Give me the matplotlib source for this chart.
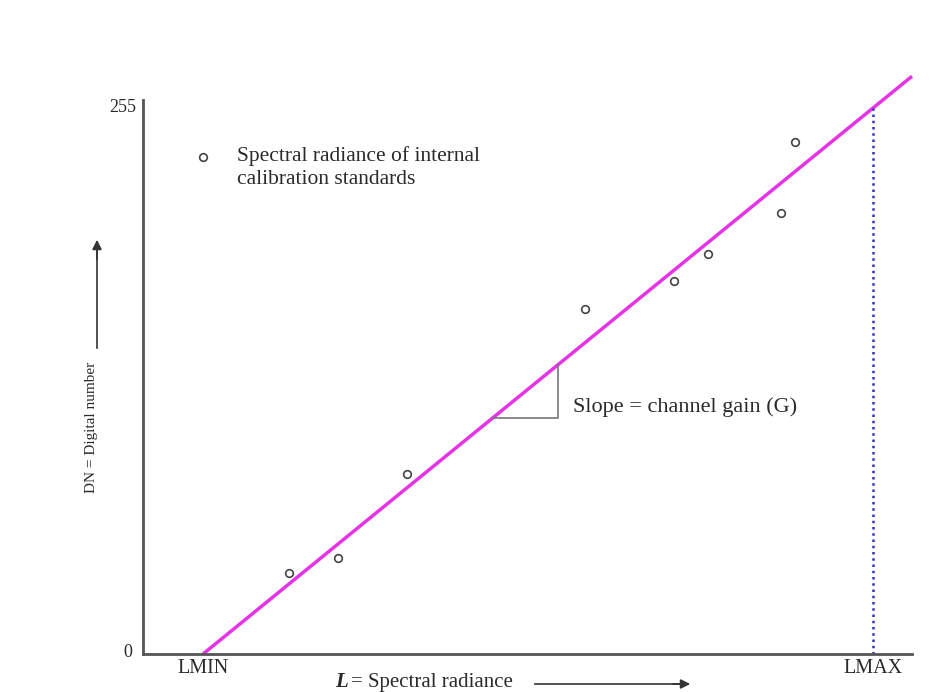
import matplotlib.pyplot as plt

# Calibration standards: spectral radiance (% of LMIN..LMAX span) vs recorded DN
radiance = [12.8, 20.1, 30.4, 57.0, 70.3, 75.4, 86.3, 88.4]
dn_values = [38, 45, 84, 161, 174, 187, 206, 239]

# Fitted response line: DN = gain * L, reaching 255 at LMAX
LMIN, LMAX = 0.0, 100.0
DN_MAX = 255
line_L = [LMIN, 105.8]
line_DN = [0, DN_MAX * 105.8 / LMAX]

# Slope triangle corners (radiance range)
tri_L = [43.3, 53.0]

plt.rcParams['font.family'] = ['Liberation Serif', 'DejaVu Serif']
TEXT = '#2a2a2a'

fig = plt.figure(figsize=(9.31, 6.92), dpi=100)
ax = fig.add_axes([143 / 931, (692 - 654) / 692, (912 - 143) / 931, (654 - 70) / 692])
ax.set_xlim(-8.96, 105.8)
ax.set_ylim(0, 272.7)

for side in ['top', 'right']:
    ax.spines[side].set_visible(False)
ax.spines['left'].set_bounds(0, 258.5)
for side in ['left', 'bottom']:
    ax.spines[side].set_color('#555555')
    ax.spines[side].set_linewidth(2)
ax.set_xticks([])
ax.set_yticks([])

gain = DN_MAX / LMAX

# response line and LMAX marker
ax.plot(line_L, line_DN, color='#e633e6', lw=2.5, solid_capstyle='butt', clip_on=False)
ax.plot([LMAX, LMAX], [0, DN_MAX], color='#3333bb', lw=1.8, ls=(0, (1, 1.5)))

# calibration points
ax.plot(radiance, dn_values, 'o', ms=5.5, mfc='none', mec='#444444', mew=1.2)

# slope triangle
y0 = tri_L[0] * gain
y1 = tri_L[1] * gain
ax.plot([tri_L[0], tri_L[1], tri_L[1]], [y0, y0, y1], color='#777777', lw=1.2)
ax.text(tri_L[1] + 2.2, y0 + 5, 'Slope = channel gain (G)', fontsize=16,
        color=TEXT, va='center', ha='left')

# legend
ax.plot([0], [232], 'o', ms=5.5, mfc='none', mec='#444444', mew=1.2)
ax.text(5.1, 237, 'Spectral radiance of internal\ncalibration standards', fontsize=15.5,
        color=TEXT, va='top', ha='left', linespacing=1.25)

# axis end labels
ax.text(-10.0, DN_MAX, '255', fontsize=13, color=TEXT, ha='right', va='center', clip_on=False)
ax.text(-10.6, 0.8, '0', fontsize=13, color=TEXT, ha='right', va='center', clip_on=False)
ax.text(LMIN, -2.5, 'LMIN', fontsize=14.5, color=TEXT, ha='center', va='top')
ax.text(LMAX, -2.5, 'LMAX', fontsize=14.5, color=TEXT, ha='center', va='top')

# axis titles with arrows
fig.text(335 / 931, 1 - 682 / 692, 'L', fontsize=15, color=TEXT, va='center',
         fontweight='bold', fontstyle='italic')
fig.text(351 / 931, 1 - 682 / 692, '= Spectral radiance', fontsize=15, color=TEXT, va='center')
fig.add_artist(plt.Line2D([535 / 931, 680 / 931], [1 - 684 / 692] * 2, color='#333333', lw=1.2))
ax.annotate('', xy=(693 / 931, 1 - 684 / 692), xytext=(670 / 931, 1 - 684 / 692),
            xycoords='figure fraction',
            arrowprops=dict(arrowstyle='-|>', color='#333333', lw=1.2, mutation_scale=14))

fig.text(91 / 931, 1 - 427 / 692, 'DN = Digital number', fontsize=11, color=TEXT,
         rotation=90, ha='center', va='center')
fig.add_artist(plt.Line2D([97 / 931] * 2, [1 - 348 / 692, 1 - 250 / 692], color='#333333', lw=1.2))
ax.annotate('', xy=(97 / 931, 1 - 237 / 692), xytext=(97 / 931, 1 - 262 / 692),
            xycoords='figure fraction',
            arrowprops=dict(arrowstyle='-|>', color='#333333', lw=1.2, mutation_scale=14))

fig.savefig('out.png', dpi=100, facecolor='white')
